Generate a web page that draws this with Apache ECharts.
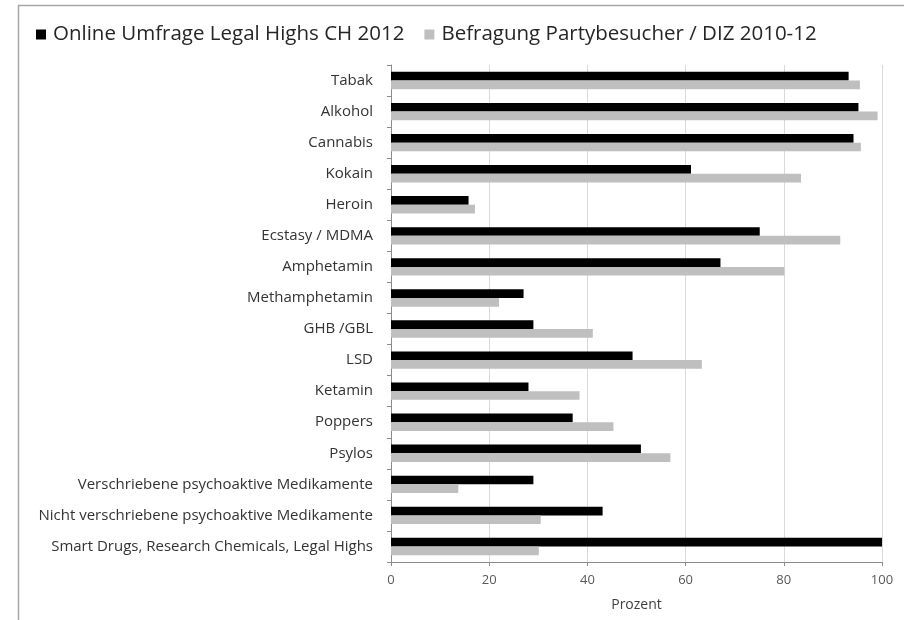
<!DOCTYPE html>
<html>
<head>
<meta charset="utf-8">
<script src="https://cdn.jsdelivr.net/npm/echarts@6/dist/echarts.min.js"></script>
<style>
html,body{margin:0;padding:0;background:#fff;}
#chart{width:904px;height:620px;}
</style>
</head>
<body>
<div id="chart"></div>
<script>
const categories = [
  "Tabak", "Alkohol", "Cannabis", "Kokain", "Heroin", "Ecstasy / MDMA",
  "Amphetamin", "Methamphetamin", "GHB /GBL", "LSD", "Ketamin", "Poppers",
  "Psylos", "Verschriebene psychoaktive Medikamente",
  "Nicht verschriebene psychoaktive Medikamente",
  "Smart Drugs, Research Chemicals, Legal Highs"
];
const seriesNames = ["Online Umfrage Legal Highs CH 2012", "Befragung Partybesucher / DIZ 2010-12"];
const onlineUmfrage = [93.2, 95.2, 94.2, 61.1, 15.8, 75.1, 67.1, 27.0, 29.0, 49.2, 28.0, 37.0, 50.9, 29.0, 43.1, 100];
const partybesucher = [95.5, 99.1, 95.7, 83.5, 17.1, 91.5, 80.1, 22.0, 41.1, 63.3, 38.4, 45.3, 56.9, 13.7, 30.5, 30.1];
const xTicks = [0, 20, 40, 60, 80, 100];
const axisTitle = "Prozent";

const FONT = "'Open Sans', sans-serif";
const chart = echarts.init(document.getElementById('chart'), null, {renderer: 'canvas'});
chart.setOption({
  backgroundColor: '#ffffff',
  animation: false,
  graphic: [{
    type: 'rect', left: 16, top: 3, silent: true, z: -1,
    shape: {width: 920, height: 640},
    style: {fill: 'none', stroke: '#a6a6a6', lineWidth: 1.5}
  }],
  legend: {
    left: 31, top: 19,
    itemWidth: 10, itemHeight: 10, itemGap: 20,
    icon: 'rect',
    textStyle: {fontFamily: FONT, fontSize: 20.5, color: '#262626', padding: [0, 0, 0, 2]},
    data: seriesNames
  },
  grid: {left: 391, right: 22, top: 65, bottom: 58, containLabel: false},
  xAxis: {
    type: 'value', min: xTicks[0], max: xTicks[xTicks.length - 1], interval: 20,
    name: axisTitle, nameLocation: 'middle', nameGap: 36,
    nameTextStyle: {fontFamily: FONT, fontSize: 14, color: '#404040'},
    axisLine: {show: true, lineStyle: {color: '#8c8c8c', width: 1}},
    axisTick: {show: true, length: 4, lineStyle: {color: '#8c8c8c'}},
    axisLabel: {fontFamily: FONT, fontSize: 13, color: '#595959', margin: 12},
    splitLine: {show: true, lineStyle: {color: '#d9d9d9', width: 1}}
  },
  yAxis: {
    type: 'category', data: categories, inverse: true,
    axisLine: {show: true, lineStyle: {color: '#8c8c8c', width: 1}},
    axisTick: {show: true, length: 4, lineStyle: {color: '#8c8c8c'}},
    axisLabel: {fontFamily: FONT, fontSize: 15, color: '#333333', margin: 18},
    splitLine: {show: false}
  },
  series: [
    {name: seriesNames[0], type: 'bar', data: onlineUmfrage, barGap: '0%', barCategoryGap: '44%',
     itemStyle: {color: '#000000'}},
    {name: seriesNames[1], type: 'bar', data: partybesucher, barGap: '0%', barCategoryGap: '44%',
     itemStyle: {color: '#bfbfbf'}}
  ]
});
</script>
</body>
</html>
